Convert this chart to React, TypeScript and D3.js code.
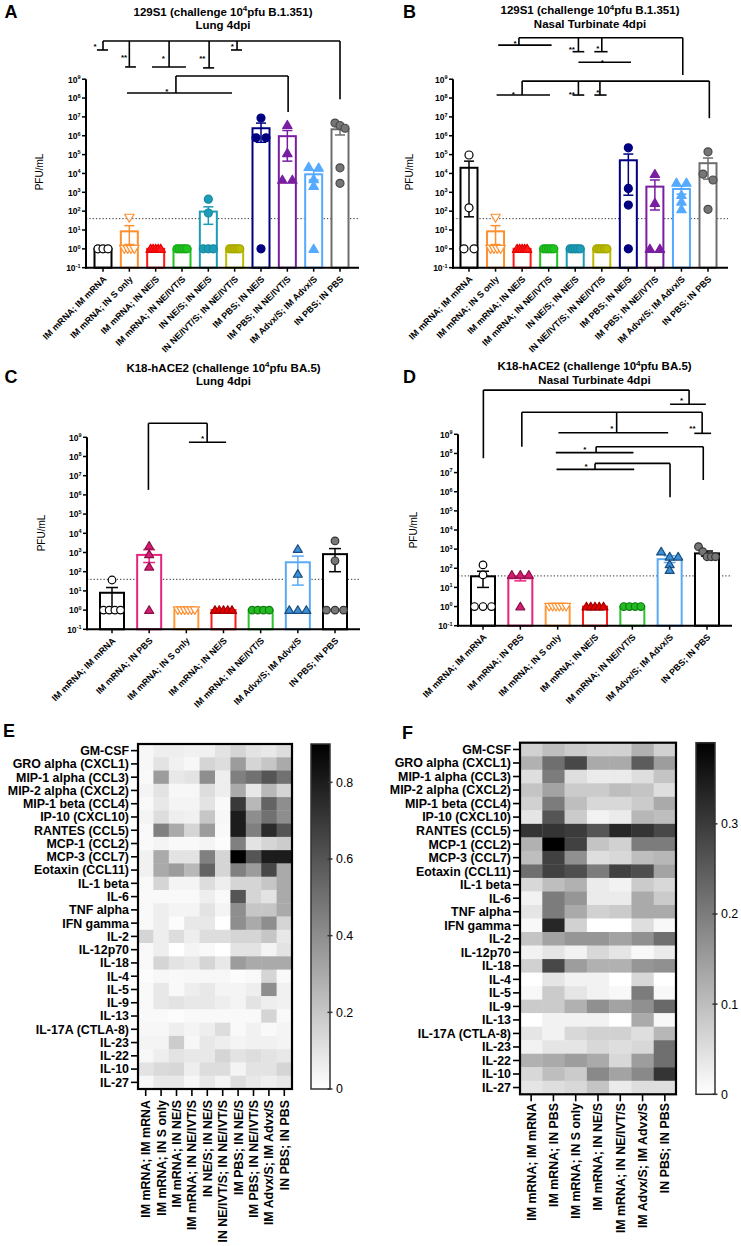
import * as d3 from 'd3';

const FONT = '"Liberation Sans", Arial, Helvetica, sans-serif';

// 129S1 challenge groups (panels A, B, E)
const groups129 = [
  'IM mRNA; IM mRNA', 'IM mRNA; IN S only', 'IM mRNA; IN NE/S', 'IM mRNA; IN NE/IVT/S',
  'IN NE/S; IN NE/S', 'IN NE/IVT/S; IN NE/IVT/S', 'IM PBS; IN NE/S', 'IM PBS; IN NE/IVT/S',
  'IM Advx/S; IM Advx/S', 'IN PBS; IN PBS',
];
// K18-hACE2 challenge groups (panels C, D, F)
const groupsK18 = [
  'IM mRNA; IM mRNA', 'IM mRNA; IN PBS', 'IM mRNA; IN S only', 'IM mRNA; IN NE/S',
  'IM mRNA; IN NE/IVT/S', 'IM Advx/S; IM Advx/S', 'IN PBS; IN PBS',
];

const lod = 40; // limit of detection, PFU/mL

// A: 129S1 lung
const lung129Points = [
  [1, 1, 1], [45, 1, 1, 1, 1], [1, 1, 1, 1, 1], [1, 1, 1, 1, 1], [430, 80, 1, 1, 1],
  [1, 1, 1, 1, 1], [8.7e6, 7.8e5, 7.8e5, 1], [3.7e6, 1.2e5, 4.6e3, 4.6e3],
  [2.2e4, 2e4, 5e3, 2.2e3, 1], [4.7e6, 3.5e6, 2.5e6, 2e4, 3e3],
];
const lung129Mean = [1, 8.5, 1, 1, 95, 1, 2.5e6, 9.5e5, 9e3, 2.2e6];
const lung129Err = [null, [1.7, 17], null, null, [20, 170], null, [4.5e5, 4.7e6], [4.5e4, 1.9e6], [4.5e3, 1.5e4], [1.1e6, 3.2e6]];

// B: 129S1 nasal turbinate
const nasal129Points = [
  [9.5e4, 150, 1, 1], [45, 1, 1, 1, 1], [1, 1, 1, 1, 1], [1, 1, 1, 1, 1], [1, 1, 1, 1, 1],
  [1, 1, 1, 1, 1], [2.3e5, 1.6e3, 210, 1], [9.3e3, 270, 1, 1],
  [3.2e3, 3.2e3, 720, 320, 126], [1.4e5, 9.3e3, 4.5e3, 125],
];
const nasal129Mean = [2e4, 8.5, 1, 1, 1, 1, 5e4, 2e3, 1.5e3, 3.5e4];
const nasal129Err = [[50, 4.5e4], [1.7, 17], null, null, null, null, [700, 1.07e5], [115, 4.5e3], [800, 2.2e3], [5e3, 6.6e4]];

// C: K18 lung
const lungK18Points = [
  [37, 1, 1, 1, 1], [2.2e3, 800, 180, 1], [1, 1, 1, 1, 1, 1], [1, 1, 1, 1, 1],
  [1, 1, 1, 1], [1.5e3, 76, 1, 1, 1], [4e3, 370, 1, 1, 1],
];
const lungK18Mean = [8, 750, 1, 1, 1, 310, 820];
const lungK18Err = [[1.2, 15], [300, 1.4e3], null, null, null, [20, 650], [100, 1.6e3]];

// D: K18 nasal turbinate
const nasalK18Points = [
  [150, 45, 1, 1, 1], [45, 45, 45, 1], [1, 1, 1, 1, 1, 1], [1, 1, 1, 1, 1],
  [1, 1, 1, 1], [740, 400, 400, 160, 80], [1.35e3, 740, 400, 400, 400],
];
const nasalK18Mean = [38, 30, 1, 1, 1, 300, 600];
const nasalK18Err = [[10, 70], [22, 40], null, null, null, [200, 450], [430, 800]];

// significance brackets: x in group index, y in log10(PFU/mL)
const lung129Brackets = [
  { top: 11.03, hub: 9, hubEnd: 7.94, legs: [
    { at: 0, end: 10.55, from: -0.23, to: 0.19, star: '*', sx: -0.3, sy: 10.81 },
    { at: 1, end: 9.65, from: 0.84, to: 1.25, star: '**', sx: 0.8, sy: 10.23 },
    { at: 2.51, end: 9.65, from: 1.86, to: 3.15, star: '*', sx: 2.29, sy: 10.19 },
    { at: 4.03, end: 9.6, from: 3.8, to: 4.22, star: '**', sx: 3.77, sy: 10.19 },
    { at: 5.09, end: 10.55, from: 4.86, to: 5.28, star: '*', sx: 4.91, sy: 10.81 },
  ] },
  { top: 9.17, hub: 7.03, hubEnd: 7.26, legs: [
    { at: 2.77, end: 8.27, from: 0.91, to: 4.9, star: '*', sx: 2.42, sy: 8.46 },
  ] },
];
const lung129Bare = [];

const nasal129Brackets = [
  { top: 11.2, hub: 8.05, hubEnd: 9.22, legs: [
    { at: 1.88, end: 10.81, from: 1.1, to: 3.11, star: '*', sx: 1.73, sy: 10.96 },
    { at: 4.12, end: 10.46, from: 3.9, to: 4.34, star: '**', sx: 3.87, sy: 10.64 },
    { at: 5.0, end: 10.46, from: 4.72, to: 5.22, star: '*', sx: 4.85, sy: 10.72 },
  ] },
  { top: 8.9, hub: 9.05, hubEnd: 6.93, legs: [
    { at: 2.0, end: 8.16, from: 1.04, to: 3.05, star: '*', sx: 1.67, sy: 8.3 },
    { at: 4.12, end: 8.16, from: 3.9, to: 4.34, star: '**', sx: 3.87, sy: 8.3 },
    { at: 4.93, end: 8.16, from: 4.72, to: 5.18, star: '*', sx: 4.85, sy: 8.39 },
  ] },
];
const nasal129Bare = [{ y: 9.9, from: 4.12, to: 6.1, star: '*', sx: 5.02, sy: 9.98 }];

const lungK18Brackets = [
  { top: 9.73, hub: 0.98, hubEnd: 6.26, legs: [
    { at: 2.56, end: 8.74, from: 2.07, to: 3.07, star: '*', sx: 2.44, sy: 9.03 },
  ] },
];

const nasalK18Brackets = [
  { top: 11.31, hub: 0.01, hubEnd: 7.75, legs: [
    { at: 5.52, end: 10.57, from: 5.01, to: 5.97, star: '*', sx: 5.32, sy: 10.83 },
  ] },
  { top: 10.15, hub: 1.04, hubEnd: 8.35, legs: [
    { at: 3.58, end: 9.08, from: 2.02, to: 4.96, star: '*', sx: 3.45, sy: 9.4 },
    { at: 5.87, end: 9.05, from: 5.66, to: 6.11, star: '**', sx: 5.61, sy: 9.38 },
  ] },
  { top: 8.35, hub: 5.9, hubEnd: 6.61, legs: [
    { at: 3.03, end: 8.04, from: 1.95, to: 4.03, star: '*', sx: 2.73, sy: 8.3 },
  ] },
  { top: 7.48, hub: 5.01, hubEnd: 5.71, legs: [
    { at: 3.0, end: 7.17, from: 1.97, to: 4.05, star: '*', sx: 2.76, sy: 7.43 },
  ] },
];

// cytokine heatmaps
const cytokines = [
  'GM-CSF', 'GRO alpha (CXCL1)', 'MIP-1 alpha (CCL3)', 'MIP-2 alpha (CXCL2)', 'MIP-1 beta (CCL4)',
  'IP-10 (CXCL10)', 'RANTES (CCL5)', 'MCP-1 (CCL2)', 'MCP-3 (CCL7)', 'Eotaxin (CCL11)',
  'IL-1 beta', 'IL-6', 'TNF alpha', 'IFN gamma', 'IL-2', 'IL-12p70', 'IL-18', 'IL-4', 'IL-5',
  'IL-9', 'IL-13', 'IL-17A (CTLA-8)', 'IL-23', 'IL-22', 'IL-10', 'IL-27',
];
const heat129 = [
  [0.03, 0.06, 0.06, 0.05, 0.05, 0.1, 0.15, 0.1, 0.08, 0.12],
  [0.03, 0.1, 0.05, 0.03, 0.15, 0.12, 0.35, 0.15, 0.2, 0.3],
  [0.02, 0.35, 0.08, 0.1, 0.4, 0.06, 0.45, 0.5, 0.6, 0.5],
  [0.04, 0.1, 0.03, 0.03, 0.12, 0.06, 0.3, 0.08, 0.25, 0.15],
  [0.02, 0.08, 0.04, 0.04, 0.1, 0.02, 0.7, 0.25, 0.55, 0.4],
  [0.04, 0.12, 0.06, 0.05, 0.2, 0.03, 0.8, 0.4, 0.5, 0.4],
  [0.02, 0.45, 0.3, 0.15, 0.35, 0.02, 0.8, 0.45, 0.75, 0.6],
  [0.02, 0.04, 0.02, 0.02, 0.04, 0.01, 0.45, 0.1, 0.15, 0.18],
  [0.05, 0.3, 0.1, 0.1, 0.45, 0.15, 0.9, 0.6, 0.8, 0.8],
  [0.05, 0.3, 0.35, 0.25, 0.55, 0.15, 0.45, 0.35, 0.65, 0.3],
  [0.02, 0.15, 0.04, 0.04, 0.12, 0.06, 0.15, 0.15, 0.2, 0.3],
  [0.02, 0.02, 0.02, 0.02, 0.06, 0.02, 0.6, 0.15, 0.1, 0.3],
  [0.02, 0.06, 0.04, 0.04, 0.1, 0.04, 0.4, 0.2, 0.2, 0.3],
  [0.02, 0.06, 0.01, 0.08, 0.08, 0.0, 0.4, 0.3, 0.4, 0.15],
  [0.15, 0.06, 0.12, 0.06, 0.12, 0.12, 0.15, 0.15, 0.2, 0.08],
  [0.02, 0.06, 0.0, 0.04, 0.02, 0.0, 0.1, 0.1, 0.04, 0.1],
  [0.02, 0.15, 0.1, 0.08, 0.15, 0.08, 0.35, 0.3, 0.3, 0.3],
  [0.01, 0.03, 0.02, 0.03, 0.03, 0.03, 0.01, 0.02, 0.15, 0.02],
  [0.02, 0.08, 0.02, 0.06, 0.08, 0.04, 0.04, 0.06, 0.4, 0.05],
  [0.02, 0.08, 0.1, 0.08, 0.08, 0.06, 0.04, 0.1, 0.06, 0.05],
  [0.02, 0.02, 0.01, 0.02, 0.02, 0.02, 0.02, 0.02, 0.15, 0.02],
  [0.03, 0.03, 0.06, 0.04, 0.06, 0.12, 0.02, 0.05, 0.02, 0.04],
  [0.04, 0.04, 0.18, 0.03, 0.08, 0.06, 0.04, 0.05, 0.05, 0.04],
  [0.03, 0.06, 0.1, 0.08, 0.08, 0.15, 0.1, 0.12, 0.1, 0.08],
  [0.1, 0.13, 0.14, 0.06, 0.12, 0.12, 0.04, 0.1, 0.1, 0.15],
  [0.03, 0.08, 0.08, 0.03, 0.08, 0.04, 0.12, 0.08, 0.06, 0.08],
];
const heatK18 = [
  [0.07, 0.1, 0.08, 0.07, 0.07, 0.12, 0.07],
  [0.12, 0.22, 0.28, 0.13, 0.13, 0.25, 0.15],
  [0.05, 0.2, 0.05, 0.03, 0.03, 0.05, 0.09],
  [0.09, 0.14, 0.08, 0.08, 0.1, 0.09, 0.05],
  [0.07, 0.2, 0.1, 0.06, 0.06, 0.08, 0.13],
  [0.04, 0.26, 0.08, 0.02, 0.03, 0.11, 0.1],
  [0.31, 0.31, 0.3, 0.26, 0.33, 0.31, 0.28],
  [0.12, 0.39, 0.29, 0.09, 0.07, 0.2, 0.2],
  [0.1, 0.29, 0.17, 0.05, 0.06, 0.1, 0.11],
  [0.22, 0.29, 0.27, 0.2, 0.29, 0.27, 0.14],
  [0.06, 0.1, 0.12, 0.03, 0.02, 0.08, 0.06],
  [0.02, 0.2, 0.16, 0.03, 0.03, 0.13, 0.08],
  [0.04, 0.2, 0.13, 0.07, 0.08, 0.13, 0.13],
  [0.01, 0.33, 0.07, 0.0, 0.0, 0.05, 0.01],
  [0.09, 0.14, 0.16, 0.16, 0.14, 0.17, 0.22],
  [0.02, 0.04, 0.02, 0.06, 0.04, 0.01, 0.03],
  [0.07, 0.28, 0.15, 0.12, 0.12, 0.16, 0.17],
  [0.0, 0.04, 0.02, 0.02, 0.0, 0.06, 0.0],
  [0.01, 0.08, 0.04, 0.02, 0.01, 0.2, 0.01],
  [0.08, 0.08, 0.12, 0.17, 0.14, 0.17, 0.23],
  [0.0, 0.02, 0.02, 0.02, 0.0, 0.13, 0.01],
  [0.04, 0.02, 0.06, 0.07, 0.07, 0.05, 0.11],
  [0.02, 0.04, 0.04, 0.06, 0.05, 0.06, 0.22],
  [0.12, 0.13, 0.15, 0.13, 0.06, 0.15, 0.22],
  [0.06, 0.1, 0.08, 0.18, 0.14, 0.18, 0.31],
  [0.04, 0.05, 0.06, 0.09, 0.03, 0.05, 0.05],
];

// group styling
const style129 = [
  { bar: '#000000', fill: '#ffffff', edge: '#000000', shape: 'circle' },
  { bar: '#ff8f2e', fill: '#ffffff', edge: '#ff8f2e', shape: 'triDown' },
  { bar: '#ff1a1a', fill: '#ff1a1a', edge: '#e60000', shape: 'tri' },
  { bar: '#1fc41f', fill: '#1fc41f', edge: '#18a818', shape: 'circle' },
  { bar: '#1c9cb6', fill: '#1c9cb6', edge: '#168aa0', shape: 'circle' },
  { bar: '#bcbc00', fill: '#bcbc00', edge: '#a6a600', shape: 'circle' },
  { bar: '#000080', fill: '#000080', edge: '#000080', shape: 'circle' },
  { bar: '#7a1ea1', fill: '#7a1ea1', edge: '#7a1ea1', shape: 'tri' },
  { bar: '#55aaff', fill: '#55aaff', edge: '#55aaff', shape: 'tri' },
  { bar: '#6e6e6e', fill: '#767676', edge: '#4a4a4a', shape: 'circle' },
];
const styleK18 = [
  { bar: '#000000', fill: '#ffffff', edge: '#000000', shape: 'circle' },
  { bar: '#e8237f', fill: '#d81b72', edge: '#8a1048', shape: 'tri' },
  { bar: '#ff9a3c', fill: '#ffffff', edge: '#ff8f2e', shape: 'triDown' },
  { bar: '#ff1a1a', fill: '#e60000', edge: '#a00000', shape: 'tri' },
  { bar: '#2ec42e', fill: '#22bb22', edge: '#127a12', shape: 'circle' },
  { bar: '#5aaaf5', fill: '#3b8fd8', edge: '#1a4d7d', shape: 'tri' },
  { bar: '#000000', fill: '#777777', edge: '#333333', shape: 'circle' },
];

const panels = [
  { letter: 'A', lx: 4.5, ly: 18, t1: ['129S1 (challenge 10', '4', 'pfu B.1.351)'], t2: 'Lung 4dpi', tx: 223, ty1: 15.5, ty2: 29,
    axisX: 86, axisEnd: 359, c0: 103, c1: 340, yTop: 79.2, yBot: 267.7, barW: 17, capW: 10, r: 4, span: 10, ylab: [43, 172],
    groups: groups129, styles: style129, points: lung129Points, means: lung129Mean, errs: lung129Err, brackets: lung129Brackets, bare: lung129Bare },
  { letter: 'B', lx: 403, ly: 18, t1: ['129S1 (challenge 10', '4', 'pfu B.1.351)'], t2: 'Nasal Turbinate 4dpi', tx: 590, ty1: 14, ty2: 27.5,
    axisX: 453, axisEnd: 728, c0: 469, c1: 708, yTop: 79.2, yBot: 267.7, barW: 17, capW: 10, r: 4, span: 10, ylab: [413, 172],
    groups: groups129, styles: style129, points: nasal129Points, means: nasal129Mean, errs: nasal129Err, brackets: nasal129Brackets, bare: nasal129Bare },
  { letter: 'C', lx: 4.5, ly: 383, t1: ['K18-hACE2 (challenge 10', '4', 'pfu BA.5)'], t2: 'Lung 4dpi', tx: 223.5, ty1: 371.5, ty2: 385,
    axisX: 87, axisEnd: 360, c0: 112, c1: 335, yTop: 437.3, yBot: 629.3, barW: 24, capW: 12, r: 3.8, span: 17, ylab: [45, 533],
    groups: groupsK18, styles: styleK18, points: lungK18Points, means: lungK18Mean, errs: lungK18Err, brackets: lungK18Brackets, bare: [] },
  { letter: 'D', lx: 403, ly: 383, t1: ['K18-hACE2 (challenge 10', '4', 'pfu BA.5)'], t2: 'Nasal Turbinate 4dpi', tx: 594.5, ty1: 370, ty2: 383.5,
    axisX: 458, axisEnd: 732, c0: 483, c1: 707, yTop: 434.3, yBot: 625.7, barW: 24, capW: 12, r: 3.8, span: 17, ylab: [417, 530],
    groups: groupsK18, styles: styleK18, points: nasalK18Points, means: nasalK18Mean, errs: nasalK18Err, brackets: nasalK18Brackets, bare: [] },
];

const heats = [
  { id: 'E', lx: 3, ly: 737, x0: 138, x1: 292, y0: 744, y1: 1089, cb0: 311, cb1: 330, max: 0.9, ticks: [0, 0.2, 0.4, 0.6, 0.8],
    cols: groups129, values: heat129, labTop: 1100 },
  { id: 'F', lx: 402, ly: 739, x0: 520, x1: 676, y0: 742.7, y1: 1094.3, cb0: 696, cb1: 715, max: 0.39, ticks: [0, 0.1, 0.2, 0.3],
    cols: groupsK18, values: heatK18, labTop: 1103 },
];

// horizontal jitter for overlapping points (GraphPad-like scatter)
function spread(vals, ypx, thr, span, maxStep) {
  const order = vals.map((v, i) => i).sort((a, b) => ypx(vals[a]) - ypx(vals[b]));
  const out = new Array(vals.length).fill(0);
  let cluster = [];
  const flush = () => {
    const n = cluster.length;
    const step = n > 1 ? Math.min(maxStep, span / (n - 1)) : 0;
    cluster.forEach((k, j) => { out[k] = (j - (n - 1) / 2) * step; });
    cluster = [];
  };
  order.forEach(k => {
    if (cluster.length && ypx(vals[k]) - ypx(vals[cluster[cluster.length - 1]]) > thr) flush();
    cluster.push(k);
  });
  flush();
  return out;
}

function Marker({ shape, x, y, r, fill, edge }) {
  if (shape === 'circle') return <circle cx={x} cy={y} r={r} fill={fill} stroke={edge} strokeWidth={1.2} />;
  const h = r * 1.15, w = r * 1.18;
  const d = shape === 'tri'
    ? `M${x},${y - h}L${x + w},${y + h * 0.75}L${x - w},${y + h * 0.75}Z`
    : `M${x},${y + h}L${x + w},${y - h * 0.75}L${x - w},${y - h * 0.75}Z`;
  return <path d={d} fill={fill} stroke={edge} strokeWidth={1.2} strokeLinejoin="round" />;
}

function BarPanel({ p }) {
  const y = d3.scaleLog().domain([0.1, 1e9]).range([p.yBot, p.yTop]);
  const x = d3.scalePoint().domain(p.groups).range([p.c0, p.c1]);
  const xi = d3.scaleLinear().domain([0, p.groups.length - 1]).range([p.c0, p.c1]);
  const ye = e => y(Math.pow(10, e));
  const exps = d3.range(-1, 10);

  return (
    <g>
      <text x={p.lx} y={p.ly} fontSize={18} fontWeight="bold">{p.letter}</text>
      <text x={p.tx} y={p.ty1} fontSize={11.5} fontWeight="bold" textAnchor="middle">
        <tspan>{p.t1[0]}</tspan><tspan dy={-4.5} fontSize={8}>{p.t1[1]}</tspan><tspan dy={4.5}>{p.t1[2]}</tspan>
      </text>
      <text x={p.tx} y={p.ty2} fontSize={11.5} fontWeight="bold" textAnchor="middle">{p.t2}</text>

      {/* limit of detection */}
      <line x1={p.axisX} x2={p.axisEnd} y1={y(lod)} y2={y(lod)} stroke="#333" strokeWidth={1} strokeDasharray="1.3,2" />

      {p.groups.map((g, i) => {
        const s = p.styles[i];
        const cx = x(g);
        const top = y(p.means[i]);
        return (
          <rect key={'b' + i} x={cx - p.barW / 2} y={top} width={p.barW} height={p.yBot - top}
            fill="#fff" stroke={s.bar} strokeWidth={2} />
        );
      })}

      {p.groups.map((g, i) => {
        const e = p.errs[i];
        if (!e) return null;
        const s = p.styles[i];
        const cx = x(g);
        const lo = e[0] > 0.1 ? y(e[0]) : p.yBot;
        const hi = y(e[1]);
        return (
          <g key={'e' + i} stroke={s.bar} strokeWidth={1.5}>
            <line x1={cx} x2={cx} y1={lo} y2={hi} />
            <line x1={cx - p.capW / 2} x2={cx + p.capW / 2} y1={hi} y2={hi} />
            {e[0] > 0.1 && <line x1={cx - p.capW / 2} x2={cx + p.capW / 2} y1={lo} y2={lo} />}
          </g>
        );
      })}

      {p.groups.map((g, i) => {
        const s = p.styles[i];
        const vals = p.points[i];
        const offs = spread(vals, y, p.r * 1.5, p.span, p.r * 2.5);
        return (
          <g key={'p' + i}>
            {vals.map((v, k) => (
              <Marker key={k} shape={s.shape} x={x(g) + offs[k]} y={y(v)} r={p.r} fill={s.fill} edge={s.edge} />
            ))}
          </g>
        );
      })}

      {/* axes */}
      <line x1={p.axisX} x2={p.axisX} y1={p.yTop} y2={p.yBot + 1} stroke="#000" strokeWidth={2} />
      <line x1={p.axisX - 1} x2={p.axisEnd} y1={p.yBot} y2={p.yBot} stroke="#000" strokeWidth={2} />
      {exps.map(e => (
        <g key={'t' + e}>
          <line x1={p.axisX - 4} x2={p.axisX} y1={ye(e)} y2={ye(e)} stroke="#000" strokeWidth={1.5} />
          <text x={p.axisX - 5.5} y={ye(e) + 3.3} fontSize={8.5} fontWeight="bold" textAnchor="end">
            <tspan>10</tspan><tspan dy={-3.5} fontSize={5.5}>{e}</tspan>
          </text>
        </g>
      ))}
      <text transform={`translate(${p.ylab[0]},${p.ylab[1]}) rotate(-90)`} fontSize={10} textAnchor="middle">PFU/mL</text>
      {p.groups.map(g => (
        <g key={'x' + g}>
          <line x1={x(g)} x2={x(g)} y1={p.yBot} y2={p.yBot + 4} stroke="#000" strokeWidth={1.5} />
          <text transform={`translate(${x(g) + 4},${p.yBot + 12}) rotate(-45)`} fontSize={9} fontWeight="bold" textAnchor="end">{g}</text>
        </g>
      ))}

      {/* significance brackets */}
      <g stroke="#000" strokeWidth={1.6} fill="none">
        {p.brackets.map((b, bi) => {
          const xs = [b.hub, ...b.legs.map(l => l.at)];
          return (
            <g key={'br' + bi}>
              <line x1={xi(d3.min(xs))} x2={xi(d3.max(xs))} y1={ye(b.top)} y2={ye(b.top)} />
              <line x1={xi(b.hub)} x2={xi(b.hub)} y1={ye(b.top)} y2={ye(b.hubEnd)} />
              {b.legs.map((l, li) => (
                <g key={li}>
                  <line x1={xi(l.at)} x2={xi(l.at)} y1={ye(b.top)} y2={ye(l.end)} />
                  <line x1={xi(l.from)} x2={xi(l.to)} y1={ye(l.end)} y2={ye(l.end)} />
                </g>
              ))}
            </g>
          );
        })}
        {p.bare.map((s, si) => (
          <line key={'bare' + si} x1={xi(s.from)} x2={xi(s.to)} y1={ye(s.y)} y2={ye(s.y)} />
        ))}
      </g>
      {[...p.brackets.flatMap(b => b.legs), ...p.bare].map((l, k) => (
        <text key={'s' + k} x={xi(l.sx)} y={ye(l.sy) + 4.2} fontSize={8} fontWeight="bold" textAnchor="middle">{l.star}</text>
      ))}
    </g>
  );
}

function HeatPanel({ h }) {
  const xb = d3.scaleBand().domain(h.cols).range([h.x0, h.x1]);
  const yb = d3.scaleBand().domain(cytokines).range([h.y0, h.y1]);
  const color = d3.scaleLinear().domain([0, h.max]).range(['#ffffff', '#000000']).clamp(true);
  const cy = d3.scaleLinear().domain([0, h.max]).range([h.y1, h.y0]);
  const gid = 'grad' + h.id;
  return (
    <g>
      <defs>
        <linearGradient id={gid} x1="0" y1="1" x2="0" y2="0">
          <stop offset="0%" stopColor="#ffffff" />
          <stop offset="100%" stopColor="#000000" />
        </linearGradient>
      </defs>
      <text x={h.lx} y={h.ly} fontSize={18} fontWeight="bold">{h.id}</text>
      {cytokines.map((c, ri) => h.cols.map((g, ci) => (
        <rect key={ri + '-' + ci} x={xb(g)} y={yb(c)} width={xb.bandwidth() + 0.4} height={yb.bandwidth() + 0.4}
          fill={color(h.values[ri][ci])} />
      )))}
      <rect x={h.x0} y={h.y0} width={h.x1 - h.x0} height={h.y1 - h.y0} fill="none" stroke="#000" strokeWidth={2.2} />
      {cytokines.map(c => {
        const yc = yb(c) + yb.bandwidth() / 2;
        return (
          <g key={c}>
            <line x1={h.x0 - 7} x2={h.x0} y1={yc} y2={yc} stroke="#000" strokeWidth={1.6} />
            <text x={h.x0 - 9} y={yc + 4.4} fontSize={12.4} fontWeight="bold" textAnchor="end">{c}</text>
          </g>
        );
      })}
      {h.cols.map(g => {
        const xc = xb(g) + xb.bandwidth() / 2;
        return (
          <g key={g}>
            <line x1={xc} x2={xc} y1={h.y1} y2={h.y1 + 7} stroke="#000" strokeWidth={1.6} />
            <text transform={`translate(${xc + 4.4},${h.labTop}) rotate(-90)`} fontSize={12.4} fontWeight="bold" textAnchor="end">{g}</text>
          </g>
        );
      })}
      <rect x={h.cb0} y={h.y0} width={h.cb1 - h.cb0} height={h.y1 - h.y0} fill={`url(#${gid})`} stroke="#333" strokeWidth={1.5} />
      {h.ticks.map(t => (
        <g key={t}>
          <line x1={h.cb1 - 2.5} x2={h.cb1 + 2.5} y1={cy(t)} y2={cy(t)} stroke="#333" strokeWidth={1.5} />
          <text x={h.cb1 + 6} y={cy(t) + 4.4} fontSize={12.4}>{t}</text>
        </g>
      ))}
    </g>
  );
}

export default function App() {
  return (
    <svg width={741} height={1246} style={{ position: 'absolute', left: 0, top: 0, background: '#fff' }} fontFamily={FONT}>
      {panels.map(p => <BarPanel key={p.letter} p={p} />)}
      {heats.map(h => <HeatPanel key={h.id} h={h} />)}
    </svg>
  );
}
